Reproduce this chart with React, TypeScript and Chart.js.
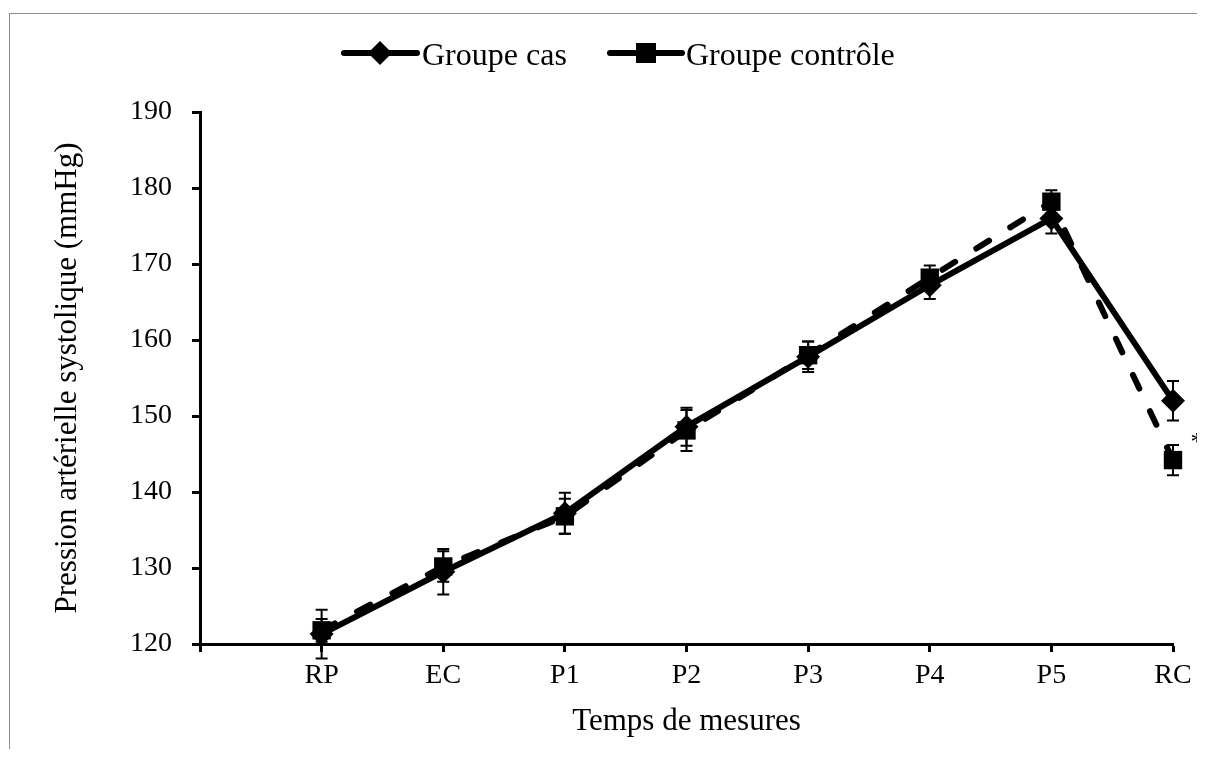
import React, { useEffect, useRef } from 'react';
import { Chart, registerables } from 'chart.js';

Chart.register(...registerables);

// ---- Data ----
const categories = ['', 'RP', 'EC', 'P1', 'P2', 'P3', 'P4', 'P5', 'RC'];
const casValues = [null, 121.3, 129.5, 137.2, 148.6, 157.8, 167.2, 176.0, 152.0];
const controleValues = [null, 121.8, 130.2, 136.8, 148.1, 158.0, 168.2, 178.2, 144.2];
const casErrors = [null, 3.2, 3.0, 2.7, 2.5, 2.0, 1.8, 2.0, 2.6];
const controleErrors = [null, 1.5, 2.0, 2.3, 2.7, 1.8, 1.6, 1.5, 2.0];
const yMin = 120;
const yMax = 190;
const yStep = 10;
const seriesNames = ['Groupe cas', 'Groupe contrôle'];
const xTitle = 'Temps de mesures';
const yTitle = 'Pression artérielle systolique (mmHg)';
const significance = { index: 8, value: 145.5, text: '*' };

const FONT = '"Liberation Serif", "Times New Roman", serif';
const errorSets = [casErrors, controleErrors];

const errorBarPlugin = {
  id: 'errorBars',
  afterDatasetsDraw(chart: any) {
    const ctx = chart.ctx;
    const xs = chart.scales.x;
    const ys = chart.scales.y;
    chart.data.datasets.forEach((ds: any, di: number) => {
      const errs = errorSets[di];
      ds.data.forEach((v: number | null, i: number) => {
        if (v == null || errs[i] == null) return;
        const px = xs.getPixelForValue(i);
        const top = ys.getPixelForValue(v + (errs[i] as number));
        const bot = ys.getPixelForValue(v - (errs[i] as number));
        ctx.save();
        ctx.strokeStyle = '#000';
        ctx.lineWidth = 2;
        ctx.beginPath();
        ctx.moveTo(px, top);
        ctx.lineTo(px, bot);
        ctx.moveTo(px - 6, top);
        ctx.lineTo(px + 6, top);
        ctx.moveTo(px - 6, bot);
        ctx.lineTo(px + 6, bot);
        ctx.stroke();
        ctx.restore();
      });
    });
  },
};

const legendPlugin = {
  id: 'customLegend',
  afterDraw(chart: any) {
    const ctx = chart.ctx;
    const ly = 39;
    ctx.save();
    ctx.strokeStyle = '#000';
    ctx.fillStyle = '#000';
    ctx.lineWidth = 6;
    ctx.lineCap = 'round';
    // item 1: solid line + diamond
    ctx.beginPath();
    ctx.moveTo(334, ly);
    ctx.lineTo(407, ly);
    ctx.stroke();
    const dx = 370;
    const r = 12;
    ctx.beginPath();
    ctx.moveTo(dx, ly - r);
    ctx.lineTo(dx + r, ly);
    ctx.lineTo(dx, ly + r);
    ctx.lineTo(dx - r, ly);
    ctx.closePath();
    ctx.fill();
    // item 2: dashed line + square
    ctx.beginPath();
    ctx.moveTo(600, ly);
    ctx.lineTo(626, ly);
    ctx.moveTo(646, ly);
    ctx.lineTo(672, ly);
    ctx.stroke();
    ctx.fillRect(636 - 10, ly - 10, 20, 20);
    // texts
    ctx.font = `32px ${FONT}`;
    ctx.textAlign = 'left';
    ctx.textBaseline = 'alphabetic';
    ctx.fillText(seriesNames[0], 412, 51);
    ctx.fillText(seriesNames[1], 676, 51);

    // significance mark next to RC
    const xs = chart.scales.x;
    const ys = chart.scales.y;
    const sx = xs.getPixelForValue(significance.index) + 24;
    const sy = ys.getPixelForValue(significance.value);
    ctx.font = `26px ${FONT}`;
    ctx.textAlign = 'center';
    ctx.textBaseline = 'alphabetic';
    ctx.fillText(significance.text, sx, sy);
    ctx.restore();
  },
};

export default function App() {
  const ref = useRef<HTMLCanvasElement | null>(null);

  useEffect(() => {
    document.documentElement.style.overflow = 'hidden';
    const canvas = ref.current;
    if (!canvas) return;
    const chart = new Chart(canvas, {
      type: 'line',
      data: {
        labels: categories,
        datasets: [
          {
            label: seriesNames[0],
            data: casValues,
            borderColor: '#000',
            backgroundColor: '#000',
            borderWidth: 6,
            pointStyle: 'rectRot',
            pointRadius: 12,
            pointBorderWidth: 0,
            pointBackgroundColor: '#000',
            tension: 0,
            clip: false,
            order: 1,
          },
          {
            label: seriesNames[1],
            data: controleValues,
            borderColor: '#000',
            backgroundColor: '#000',
            borderWidth: 6,
            borderDash: [15, 25],
            borderCapStyle: 'round',
            pointStyle: 'rect',
            pointRadius: 13,
            pointBorderWidth: 0,
            pointBackgroundColor: '#000',
            tension: 0,
            clip: false,
            order: 0,
          },
        ],
      } as any,
      options: {
        responsive: false,
        animation: false,
        devicePixelRatio: 1,
        layout: { padding: { left: 39, right: 30, top: 98, bottom: 14 } },
        plugins: {
          legend: { display: false },
          tooltip: { enabled: false },
        },
        scales: {
          x: {
            type: 'category',
            offset: false,
            grid: {
              display: true,
              drawOnChartArea: false,
              drawTicks: true,
              tickLength: 8,
              tickWidth: 3,
              tickColor: '#000',
              color: '#000',
            },
            border: { display: true, color: '#000', width: 3 },
            ticks: {
              color: '#000',
              font: { family: FONT, size: 28 },
              padding: 7,
              autoSkip: false,
              maxRotation: 0,
            },
            title: {
              display: true,
              text: xTitle,
              color: '#000',
              font: { family: FONT, size: 31 },
              padding: 0,
            },
            afterFit(scale: any) {
              scale.height = 96;
            },
          },
          y: {
            min: yMin,
            max: yMax,
            grid: {
              display: true,
              drawOnChartArea: false,
              drawTicks: true,
              tickLength: 8,
              tickWidth: 3,
              tickColor: '#000',
              color: '#000',
            },
            border: { display: true, color: '#000', width: 3 },
            ticks: {
              stepSize: yStep,
              color: '#000',
              font: { family: FONT, size: 28 },
              padding: 20,
            },
            title: {
              display: true,
              text: yTitle,
              color: '#000',
              font: { family: FONT, size: 31 },
              padding: 0,
            },
            afterFit(scale: any) {
              scale.width = 151;
            },
          },
        },
      },
      plugins: [errorBarPlugin, legendPlugin],
    } as any);
    return () => chart.destroy();
  }, []);

  return (
    <div
      style={{
        position: 'relative',
        top: 5,
        left: 1,
        width: 1193,
        height: 740,
        borderTop: '1px solid #8c8c8c',
        borderLeft: '1px solid #8c8c8c',
        borderRight: '1px solid #8c8c8c',
      }}
    >
      <canvas ref={ref} width={1193} height={740} style={{ display: 'block' }} />
    </div>
  );
}
